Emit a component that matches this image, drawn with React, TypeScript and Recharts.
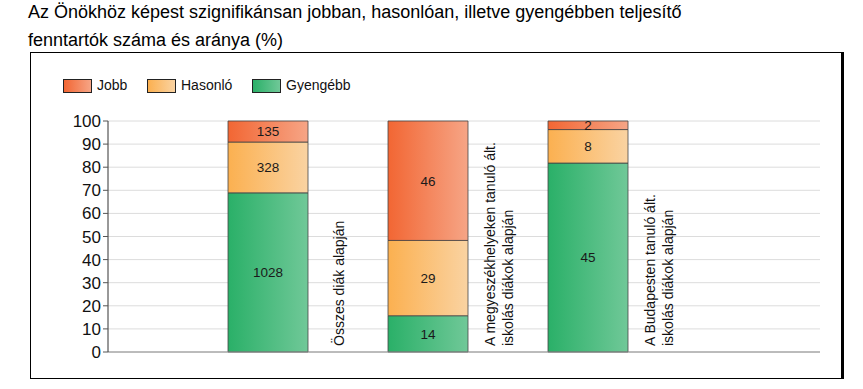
import React from "react";
import { BarChart, Bar, XAxis, YAxis, CartesianGrid, LabelList } from "recharts";

const titleLines = [
  "Az Önökhöz képest szignifikánsan jobban, hasonlóan, illetve gyengébben teljesítő",
  "fenntartók száma és aránya (%)",
];

const categoryLines: string[][] = [
  ["Összes diák alapján"],
  ["A megyeszékhelyeken tanuló ált.", "iskolás diákok alapján"],
  ["A Budapesten tanuló ált.", "iskolás diákok alapján"],
];

// percentages (bar heights)
const gyengebbPct = [68.9, 15.7, 81.8];
const hasonloPct = [22.0, 32.6, 14.5];
const jobbPct = [9.1, 51.7, 3.7];

// counts shown inside the segments
const gyengebbCount = [1028, 14, 45];
const hasonloCount = [328, 29, 8];
const jobbCount = [135, 46, 2];

const yTicks = [0, 10, 20, 30, 40, 50, 60, 70, 80, 90, 100];

const seriesNames = ["Jobb", "Hasonló", "Gyengébb"];

const data = categoryLines.map((lines, i) => ({
  name: lines.join(" "),
  idx: i,
  gyengebb: gyengebbPct[i],
  hasonlo: hasonloPct[i],
  jobb: jobbPct[i],
}));

const FONT = "'Liberation Sans', Arial, sans-serif";

const gradients = {
  jobb: ["#F26633", "#F6A586"],
  hasonlo: ["#FBB050", "#FAD3A2"],
  gyengebb: ["#2AB068", "#70C898"],
};

const makeLabel = (counts: number[]) => (props: any) => {
  const { x, y, width, height, index } = props;
  return (
    <text
      x={x + width / 2}
      y={y + height / 2}
      dy="0.36em"
      textAnchor="middle"
      fontSize={13.5}
      fontFamily={FONT}
      fill="#1a1a1a"
    >
      {counts[index]}
    </text>
  );
};

const CategoryTick = (props: any) => {
  const { x, index } = props;
  const lines = categoryLines[index] || [];
  const n = lines.length;
  const cx = x + 71;
  const baseY = 346;
  return (
    <g>
      {lines.map((ln, i) => {
        const lx = cx + (i - (n - 1) / 2) * 18 + 5;
        return (
          <text
            key={i}
            x={lx}
            y={baseY}
            transform={`rotate(-90, ${lx}, ${baseY})`}
            textAnchor="start"
            fontSize={14}
            fontFamily={FONT}
            fill="#111"
          >
            {ln}
          </text>
        );
      })}
    </g>
  );
};

const legendItems = [
  { name: seriesNames[0], key: "jobb", x: 63, tx: 97 },
  { name: seriesNames[1], key: "hasonlo", x: 147, tx: 181 },
  { name: seriesNames[2], key: "gyengebb", x: 252, tx: 286 },
];

export default function App() {
  return (
    <div
      style={{
        position: "absolute",
        left: 0,
        top: 0,
        width: 863,
        height: 389,
        background: "#fff",
        fontFamily: FONT,
        overflow: "hidden",
      }}
    >
      {titleLines.map((t, i) => (
        <div
          key={i}
          style={{
            position: "absolute",
            left: 28,
            top: i === 0 ? 3 : 31,
            fontSize: 18,
            lineHeight: "18px",
            color: "#000",
            whiteSpace: "nowrap",
          }}
        >
          {t}
        </div>
      ))}
      <div
        style={{
          position: "absolute",
          left: 30,
          top: 52,
          width: 810,
          height: 325,
          borderTop: "1px solid #000",
          borderLeft: "1px solid #000",
          borderBottom: "1px solid #000",
          borderRight: "3px solid #000",
        }}
      />
      {legendItems.map((it) => {
        const g = (gradients as any)[it.key];
        return (
          <React.Fragment key={it.key}>
            <div
              style={{
                position: "absolute",
                left: it.x,
                top: 79,
                width: 27,
                height: 12,
                border: "1px solid #222",
                background: `linear-gradient(to right, ${g[0]}, ${g[1]})`,
              }}
            />
            <div
              style={{
                position: "absolute",
                left: it.tx,
                top: 77,
                fontSize: 14,
                lineHeight: "16px",
                color: "#111",
              }}
            >
              {it.name}
            </div>
          </React.Fragment>
        );
      })}
      <div style={{ position: "absolute", left: 0, top: 0 }}>
        <BarChart
          width={863}
          height={389}
          data={data}
          margin={{ top: 121, right: 43, bottom: 7, left: 48 }}
          barSize={80}
        >
          <defs>
            {Object.entries(gradients).map(([k, g]) => (
              <linearGradient key={k} id={`grad-${k}`} x1="0" y1="0" x2="1" y2="0">
                <stop offset="0%" stopColor={g[0]} />
                <stop offset="100%" stopColor={g[1]} />
              </linearGradient>
            ))}
          </defs>
          <CartesianGrid vertical={false} stroke="#dcdcdc" />
          <XAxis
            dataKey="name"
            padding={{ left: 80, right: 152 }}
            axisLine={{ stroke: "#8a8a8a" }}
            tickLine={false}
            tick={<CategoryTick />}
            interval={0}
            height={30}
          />
          <YAxis
            type="number"
            domain={[0, 100]}
            ticks={yTicks}
            width={60}
            tickSize={5}
            axisLine={{ stroke: "#333" }}
            tickLine={{ stroke: "#555" }}
            tick={{ fontSize: 17, fill: "#111", fontFamily: FONT }}
            interval={0}
          />
          <Bar
            dataKey="gyengebb"
            stackId="s"
            name={seriesNames[2]}
            fill="url(#grad-gyengebb)"
            stroke="#444"
            strokeWidth={0.8}
            isAnimationActive={false}
          >
            <LabelList dataKey="gyengebb" content={makeLabel(gyengebbCount)} />
          </Bar>
          <Bar
            dataKey="hasonlo"
            stackId="s"
            name={seriesNames[1]}
            fill="url(#grad-hasonlo)"
            stroke="#444"
            strokeWidth={0.8}
            isAnimationActive={false}
          >
            <LabelList dataKey="hasonlo" content={makeLabel(hasonloCount)} />
          </Bar>
          <Bar
            dataKey="jobb"
            stackId="s"
            name={seriesNames[0]}
            fill="url(#grad-jobb)"
            stroke="#444"
            strokeWidth={0.8}
            isAnimationActive={false}
          >
            <LabelList dataKey="jobb" content={makeLabel(jobbCount)} />
          </Bar>
        </BarChart>
      </div>
    </div>
  );
}
